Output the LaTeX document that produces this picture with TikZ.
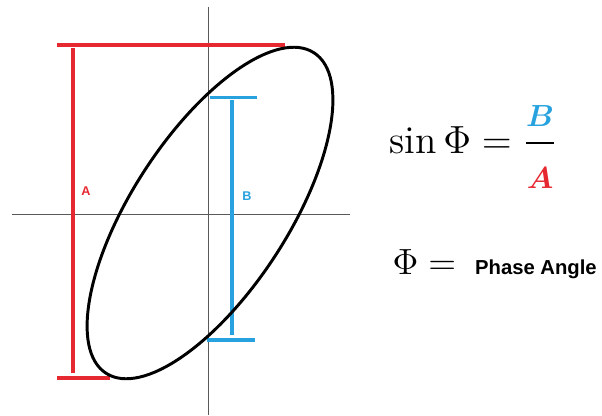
\documentclass[tikz,border=0pt]{standalone}
\usepackage{amsmath}
\usepackage{bm}
\usepackage{fontspec}
\newfontfamily\labelfont{Liberation Sans}
\usepackage{xcolor}
\usepackage{tikz}
\usetikzlibrary{positioning, calc}

\definecolor{barred}{RGB}{230,40,48}
\definecolor{barblue}{RGB}{40,162,222}

\tikzset{
  axisline/.style={draw=black!65, line width=0.6pt},
  redbar/.style={draw=barred, line width=2.8pt},
  bluebar/.style={draw=barblue, line width=2.8pt},
  barlabel/.style={font=\labelfont\bfseries\fontsize{9}{10}\selectfont}
}

\begin{document}
\begin{tikzpicture}[x=0.025cm, y=0.025cm]
\useasboundingbox (-208,-201) rectangle (394,214);

% Axes
\draw[axisline] (-196,0) -- (142,0);
\draw[axisline] (0,207) -- (0,-201);

% Red span A
\draw[redbar] (-151,169) -- (77,169);
\draw[redbar] (-135,166) -- (-135,-159);
\draw[redbar] (-151,-164) -- (-98,-164);
\node[barlabel, text=barred] (labA) at (-122,23) {A};

% Blue span B
\draw[bluebar] (2,116.5) -- (49,116.5);
\draw[bluebar] (24,114) -- (24,-121);
\draw[bluebar] (-1,-126) -- (47,-126);
\node[barlabel, text=barblue] (labB) at (39,17.5) {B};

% Ellipse
\draw[line width=2.1pt, shift={(2,1)}, rotate=57] (0,0) ellipse (191 and 78);

% Formula
\node[anchor=base west, inner sep=0pt, scale=1.94, font=\Large] (sinEq) at (181,61)
  {$\sin\Phi = \dfrac{\scalebox{1.12}{$\scriptstyle\color{barblue}\bm{B}$}}{\raisebox{-3pt}{\scalebox{1.12}{$\scriptstyle\color{barred}\bm{A}$}}}$};
\node[anchor=base west, inner sep=0pt, scale=1.8, font=\Large] (phiDef) at (184,-60)
  {$\Phi =$\hspace{7.5pt}{\labelfont\bfseries\fontsize{8}{10}\selectfont Phase Angle}};

\end{tikzpicture}
\end{document}
